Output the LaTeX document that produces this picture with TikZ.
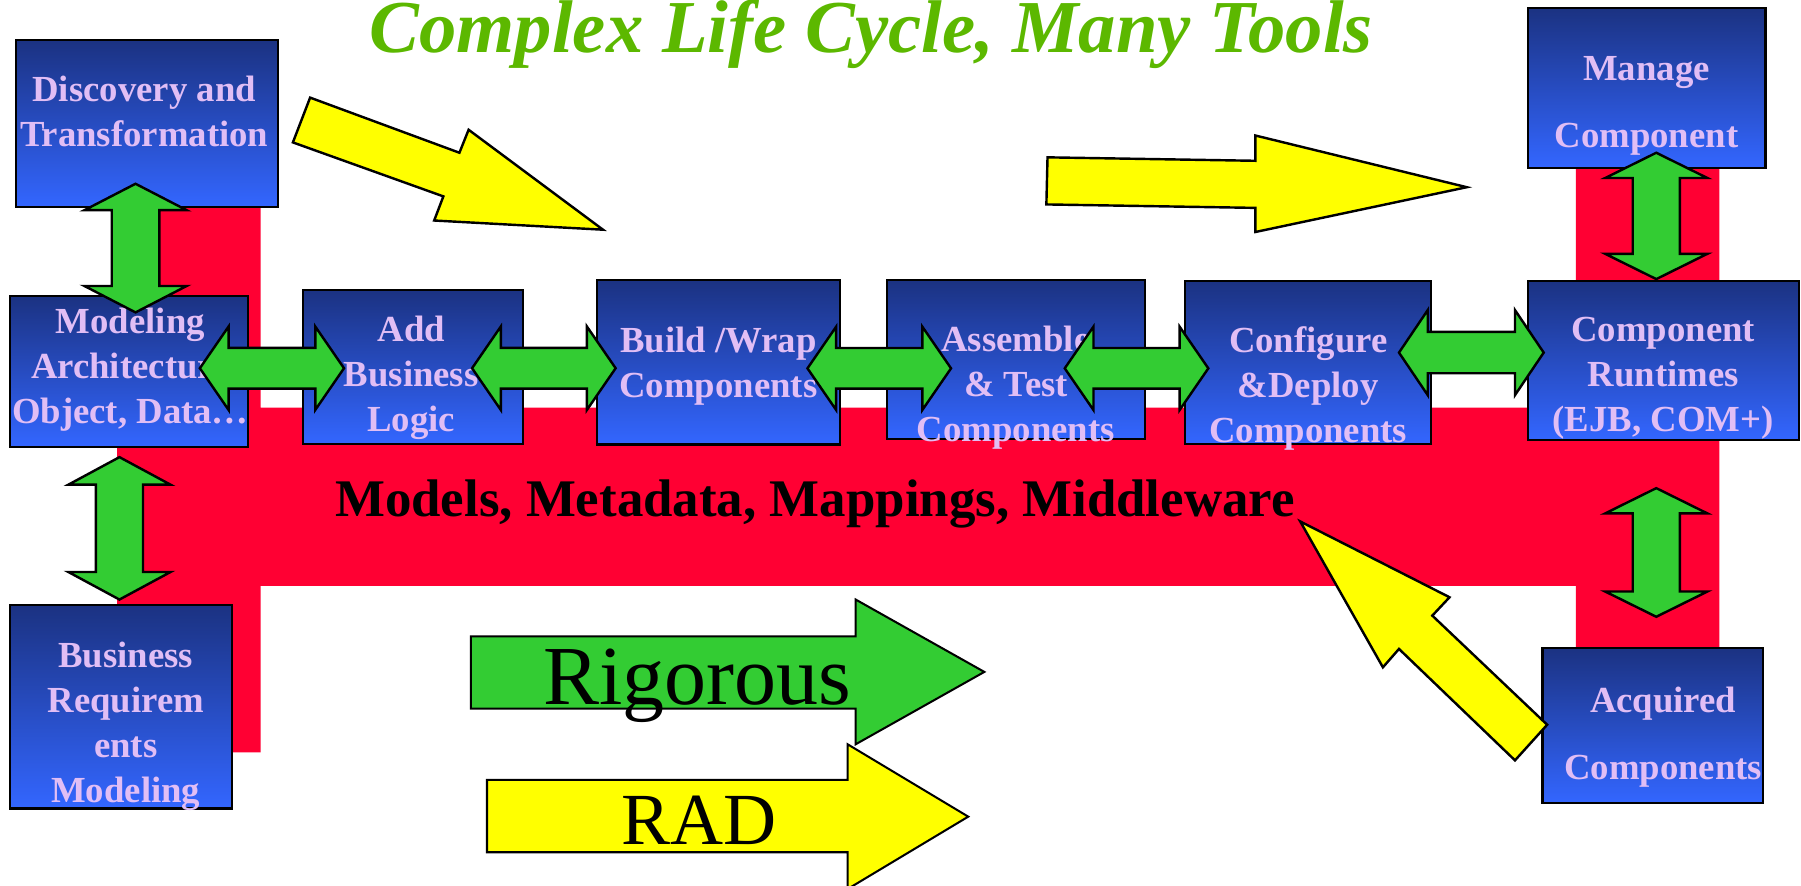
\documentclass[tikz,border=0pt]{standalone}
\usepackage{fontspec}
\setmainfont{Liberation Serif}
\usetikzlibrary{calc}
\definecolor{bandred}{RGB}{255,0,51}
\definecolor{boxtop}{RGB}{27,50,130}
\definecolor{boxbottom}{RGB}{51,102,255}
\definecolor{lilac}{RGB}{225,190,245}
\definecolor{linkgreen}{RGB}{51,204,51}
\definecolor{titlegreen}{RGB}{92,184,0}
\definecolor{flowyellow}{RGB}{255,255,0}
\tikzset{
  stage/.style={draw=black, line width=0.55pt, top color=boxtop, bottom color=boxbottom, inner sep=0pt, outer sep=0pt},
  stagetext/.style={text=lilac, font=\fontsize{9.1}{11.15}\selectfont\bfseries, align=center, inner sep=0pt},
  widetext/.style={stagetext, font=\fontsize{9.1}{16.64}\selectfont\bfseries},
  linkshape/.style={draw=black, fill=linkgreen, line width=0.6pt},
  flow/.style={draw=black, fill=flowyellow, line width=0.6pt},
}
% block double arrow: tips #1 and #2, head length #3, head half width #4, shaft half width #5
\newcommand{\twoway}[5]{%
  \draw[linkshape] (#1)
    -- ($(#1)!#3!(#2)!#4!90:(#2)$) -- ($(#1)!#3!(#2)!#5!90:(#2)$)
    -- ($(#2)!#3!(#1)!#5!-90:(#1)$) -- ($(#2)!#3!(#1)!#4!-90:(#1)$)
    -- (#2)
    -- ($(#2)!#3!(#1)!#4!90:(#1)$) -- ($(#2)!#3!(#1)!#5!90:(#1)$)
    -- ($(#1)!#3!(#2)!#5!-90:(#2)$) -- ($(#1)!#3!(#2)!#4!-90:(#2)$)
    -- cycle;}
\begin{document}
\begin{tikzpicture}[x=0.1mm, y=-0.1mm]
\useasboundingbox (0,0) rectangle (1568,771);
\fill[bandred] (102,150) -- (227,150) -- (227,355) -- (1372,355) -- (1372,120) -- (1497,120) -- (1497,565) -- (1372,565) -- (1372,510) -- (227,510) -- (227,655) -- (102,655) -- cycle;
\node[font=\fontsize{18.5}{22}\selectfont\bfseries\itshape, text=titlegreen, anchor=base] (title) at (758.5,46) {Complex Life Cycle, Many Tools};
\draw[flow] (270,85) -- (400,133) -- (408,113) -- (525,200) -- (378,192) -- (386,171) -- (255,124) -- cycle;
\draw[flow] (912,137) -- (1093,140) -- (1093,118) -- (1277,163) -- (1093,202) -- (1093,181) -- (911,178) -- cycle;
% stages
\node[stage, minimum width=22.8mm, minimum height=14.5mm] (disc) at (128,107.5) {};
\node[stage, minimum width=20.7mm, minimum height=13.1mm] (mod) at (112.5,323.5) {};
\node[stage, minimum width=19.2mm, minimum height=13.4mm] (add) at (359.5,319.5) {};
\node[stage, minimum width=21.1mm, minimum height=14.3mm] (build) at (625.5,315.5) {};
\node[stage, minimum width=22.5mm, minimum height=13.8mm] (asm) at (884.5,313) {};
\node[stage, minimum width=21.4mm, minimum height=14.2mm] (conf) at (1139,315.5) {};
\node[stage, minimum width=23.6mm, minimum height=13.85mm] (rt) at (1448,313.75) {};
\node[stage, minimum width=20.7mm, minimum height=13.9mm] (man) at (1433.5,76.5) {};
\node[stage, minimum width=19.35mm, minimum height=17.7mm] (req) at (105.25,615.5) {};
\node[stage, minimum width=19.2mm, minimum height=13.5mm] (acq) at (1439,631.5) {};
\node[stagetext] (disc-t) at (125.5,100.1) {\strut Discovery and\\Transformation\strut};
\node[stagetext] (mod-t) at (113.5,321.7) {\strut Modeling\\Architecture\\Object, Data…\strut};
\node[stagetext] (add-t) at (358,328.9) {\strut Add\\Business\\Logic\strut};
\node[stagetext] (build-t) at (625.5,318.7) {\strut Build /Wrap\\Components\strut};
\node[stagetext] (asm-t) at (884.5,337.7) {\strut Assemble\\\& Test\\Components\strut};
\node[stagetext] (conf-t) at (1139,338.3) {\strut Configure\\\&Deploy\\Components\strut};
\node[stagetext] (rt-t) at (1448,328.9) {\strut Component\\Runtimes\\(EJB, COM+)\strut};
\node[widetext] (man-t) at (1433.5,87.3) {\strut Manage\\Component\strut};
\node[stagetext] (req-t) at (109.5,632.5) {\strut Business\\Requirem\\ents\\Modeling\strut};
\node[widetext] (acq-t) at (1448,637.8) {\strut Acquired\\Components\strut};
\node[font=\fontsize{13.1}{15}\selectfont\bfseries, anchor=base] (mid) at (709.5,450) {Models, Metadata, Mappings, Middleware};
\draw[flow] (1132,454) -- (1262,520) -- (1247,536) -- (1347,631) -- (1319,662) -- (1218,565) -- (1204,581) -- cycle;
% links
\coordinate (disc-s) at (118,160); \coordinate (mod-n) at (118,272);
\coordinate (mod-s) at (104,398); \coordinate (req-n) at (104,522);
\coordinate (mod-e) at (174,320.6); \coordinate (add-w) at (299.5,320.6);
\coordinate (add-e) at (411,320.6); \coordinate (build-w) at (536,320.6);
\coordinate (build-e) at (703,320.7); \coordinate (asm-w) at (828,320.7);
\coordinate (asm-e) at (927,320.7); \coordinate (conf-w) at (1052,320.7);
\coordinate (conf-e) at (1218,307); \coordinate (rt-w) at (1344,307);
\coordinate (man-s) at (1442,133); \coordinate (rt-n) at (1442,243);
\coordinate (rt-s) at (1442,425); \coordinate (acq-n) at (1442,537);
\twoway{disc-s}{mod-n}{2.3mm}{4.45mm}{2.07mm}
\twoway{mod-s}{req-n}{2.4mm}{4.45mm}{2.05mm}
\twoway{mod-e}{add-w}{2.5mm}{3.63mm}{1.77mm}
\twoway{add-e}{build-w}{2.5mm}{3.63mm}{1.77mm}
\twoway{build-e}{asm-w}{2.5mm}{3.63mm}{1.77mm}
\twoway{asm-e}{conf-w}{2.5mm}{3.63mm}{1.77mm}
\twoway{conf-e}{rt-w}{2.5mm}{3.7mm}{1.8mm}
\twoway{man-s}{rt-n}{2.2mm}{4.45mm}{2.05mm}
\twoway{rt-s}{acq-n}{2.2mm}{4.45mm}{2.05mm}
% rigorous and rad
\draw[flow, fill=linkgreen, line width=0.5pt] (410,554) -- (745,554) -- (745,522) -- (857,585) -- (745,648) -- (745,617) -- (410,617) -- cycle;
\node[font=\fontsize{20.8}{24}\selectfont, anchor=base] (rig) at (607,613) {Rigorous};
\draw[flow, line width=0.5pt] (424,679) -- (738,679) -- (738,648) -- (843,711) -- (738,774) -- (738,742) -- (424,742) -- cycle;
\node[font=\fontsize{18.2}{22}\selectfont, anchor=base] (rad) at (609,735) {RAD};
\end{tikzpicture}
\end{document}
